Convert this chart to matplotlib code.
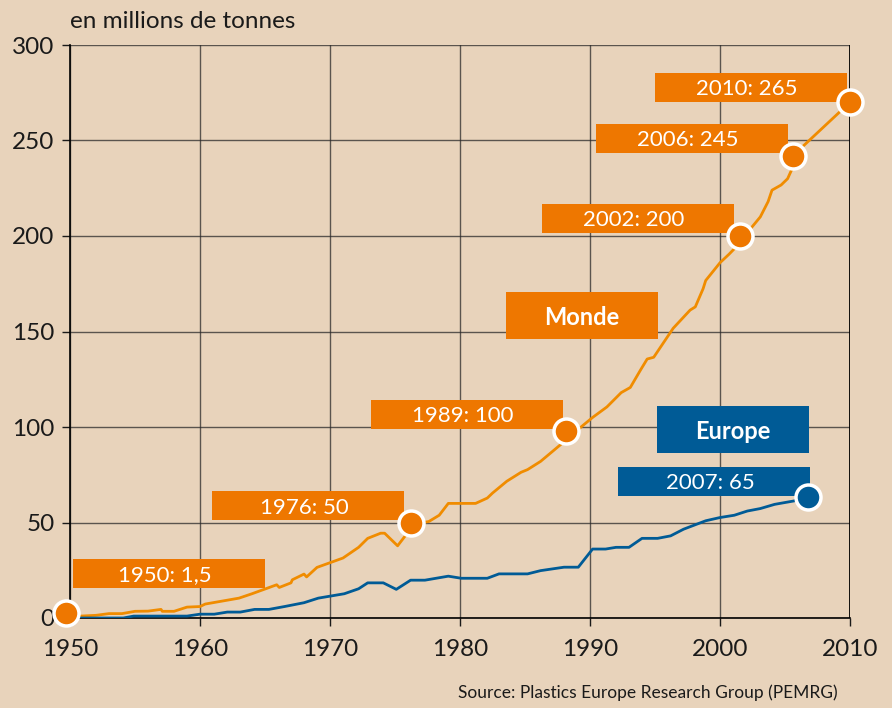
import matplotlib
matplotlib.use("Agg")
import matplotlib.pyplot as plt
from matplotlib.patches import Rectangle

plt.rcParams['font.family'] = ['Lato', 'DejaVu Sans']

# production mondiale (en millions de tonnes)
monde_years = [1950.8, 1952, 1953, 1954, 1955, 1956, 1957, 1957.1, 1958, 1959,
               1960, 1960.4, 1963, 1964, 1965.9, 1966.1, 1967, 1967.1, 1968,
               1968.2, 1969, 1971, 1972.2, 1972.9, 1973.9, 1974.2, 1975.2,
               1975.9, 1976.3, 1977.6, 1978.4, 1979.1, 1981.2, 1982.1, 1982.5,
               1983.6, 1984.7, 1985.2, 1986.2, 1987.2, 1988.3, 1989.4, 1990.2,
               1991.3, 1992.4, 1993.1, 1993.9, 1994.4, 1994.9, 1996.4, 1997.7,
               1998.1, 1998.7, 1998.9, 2000, 2000.7, 2001.2, 2001.5, 2002.3,
               2003.1, 2003.7, 2004, 2004.7, 2005.2, 2005.6, 2005.6, 2010]
monde_values = [1.0, 1.4, 2.3, 2.3, 3.5, 3.6, 4.5, 3.5, 3.5, 5.7,
                6.0, 7.3, 10.4, 12.7, 17.4, 16.0, 18.4, 20.0, 23.0,
                21.5, 26.5, 31.4, 37.0, 41.7, 44.4, 44.4, 37.8,
                44.0, 49.0, 50.5, 53.8, 60.0, 60.0, 62.8, 65.4,
                71.6, 76.3, 77.7, 82.0, 87.7, 94.0, 100.5, 105.0,
                110.5, 118.0, 120.7, 130.0, 135.6, 136.5, 151.7, 161.2,
                162.9, 172.4, 176.7, 186.0, 190.5, 194.0, 200.0, 203.4,
                210.0, 218.0, 224.0, 226.7, 230.0, 236.0, 242.0, 270.0]

# production europeenne
europe_years = [1950.8, 1954.1, 1954.9, 1959, 1960, 1961.1, 1962.1, 1963.1,
                1964.2, 1965.3, 1966.5, 1968, 1969.1, 1971.1, 1972.2, 1972.9,
                1974.1, 1975.1, 1976.2, 1977.3, 1979.1, 1980.1, 1982.1, 1983,
                1985.2, 1986.2, 1988, 1989.1, 1990.2, 1991.2, 1992, 1993, 1994,
                1995.2, 1996.2, 1997.2, 1998.9, 2000, 2001.1, 2002.1, 2003.1,
                2004.2, 2005.7, 2006.8]
europe_values = [0, 0, 1.0, 1.0, 2.0, 2.0, 3.1, 3.1,
                 4.5, 4.5, 6.0, 8.0, 10.4, 12.7, 15.3, 18.4,
                 18.4, 15.0, 19.8, 19.8, 21.9, 20.8, 20.8, 23.1,
                 23.1, 24.8, 26.6, 26.6, 36.1, 36.1, 37.0, 37.0, 41.7,
                 41.7, 43.0, 46.5, 50.9, 52.6, 53.8, 56.0, 57.3,
                 59.5, 61.3, 63.9]

# points marques
monde_mk_x = [1949.7, 1976.2, 1988.15, 2001.5, 2005.6, 2010]
monde_mk_y = [2.6, 49.7, 98, 200, 242, 270]
monde_labels = ['1950: 1,5', '1976: 50', '1989: 100', '2002: 200',
                '2006: 245', '2010: 265']
europe_mk_x = [2006.8]
europe_mk_y = [63.5]
europe_labels = ['2007: 65']

x_ticks = [1950, 1960, 1970, 1980, 1990, 2000, 2010]
y_ticks = [0, 50, 100, 150, 200, 250, 300]

BG = '#E8D3BB'
ORANGE = '#EE7700'
LINE_OR = '#F08C00'
BLUE = '#005B96'

fig = plt.figure(figsize=(8.92, 7.08), dpi=100, facecolor=BG)
ax = fig.add_axes([70/892, 1 - 618/708, 780/892, 573/708])
ax.set_facecolor(BG)

ax.set_xlim(1950, 2010)
ax.set_ylim(0, 300)
ax.set_xticks(x_ticks)
ax.set_yticks(y_ticks)
ax.grid(True, color='#2a2a2a', linewidth=1.0, alpha=0.75)
ax.set_axisbelow(True)
for s in ['top', 'right']:
    ax.spines[s].set_visible(False)
ax.spines['left'].set_linewidth(1.2)
ax.spines['bottom'].set_linewidth(1.2)
ax.axvline(2010, color='black', linewidth=2, zorder=1)
ax.tick_params(direction='out', length=6, width=1, labelsize=17.5,
               colors='#1a1a1a', pad=5)
ax.tick_params(axis='x', pad=9)

ax.plot(monde_years, monde_values, color=LINE_OR, linewidth=2, zorder=3)
ax.plot(europe_years, europe_values, color=BLUE, linewidth=2, zorder=3)

ax.plot(monde_mk_x, monde_mk_y, 'o', color=ORANGE, markersize=18,
        markeredgecolor='white', markeredgewidth=2.5, zorder=5, clip_on=False)
ax.plot(europe_mk_x, europe_mk_y, 'o', color=BLUE, markersize=18,
        markeredgecolor='white', markeredgewidth=2.5, zorder=5, clip_on=False)

# etiquettes (coin bas-gauche, en unites des axes)
label_pos = [(1950.23, 15.7), (1960.92, 51.3), (1973.15, 99.0),
             (1986.31, 201.6), (1990.46, 243.5), (1995.0, 270.2)]
bw, bh = 14.77, 15.2
for (x0, y0), txt in zip(label_pos, monde_labels):
    ax.add_patch(Rectangle((x0, y0), bw, bh, facecolor=ORANGE,
                           edgecolor='none', zorder=4))
    ax.text(x0 + bw / 2 - 0.3, y0 + bh / 2, txt, color='white', fontsize=16,
            ha='center', va='center_baseline', zorder=6)
for (x0, y0), txt in zip([(1992.15, 63.9)], europe_labels):
    ax.add_patch(Rectangle((x0, y0), bw, bh, facecolor=BLUE,
                           edgecolor='none', zorder=4))
    ax.text(x0 + bw / 2 - 0.3, y0 + bh / 2, txt, color='white', fontsize=16,
            ha='center', va='center_baseline', zorder=6)

nw, nh = 11.7, 24.6
for (x0, y0), txt, c in [((1983.54, 146.1), 'Monde', ORANGE),
                         ((1995.15, 86.4), 'Europe', BLUE)]:
    ax.add_patch(Rectangle((x0, y0), nw, nh, facecolor=c,
                           edgecolor='none', zorder=4))
    ax.text(x0 + nw / 2, y0 + nh / 2, txt, color='white', fontsize=17,
            fontweight='bold', ha='center', va='center_baseline', zorder=6)

fig.text(70/892, 1 - 28/708, 'en millions de tonnes', fontsize=17.5,
         color='#1a1a1a', ha='left', va='baseline')
fig.text(838/892, 1 - 698/708,
         'Source: Plastics Europe Research Group (PEMRG)', fontsize=12.5,
         color='#1a1a1a', ha='right', va='baseline')

fig.savefig('out.png', dpi=100, facecolor=BG)
